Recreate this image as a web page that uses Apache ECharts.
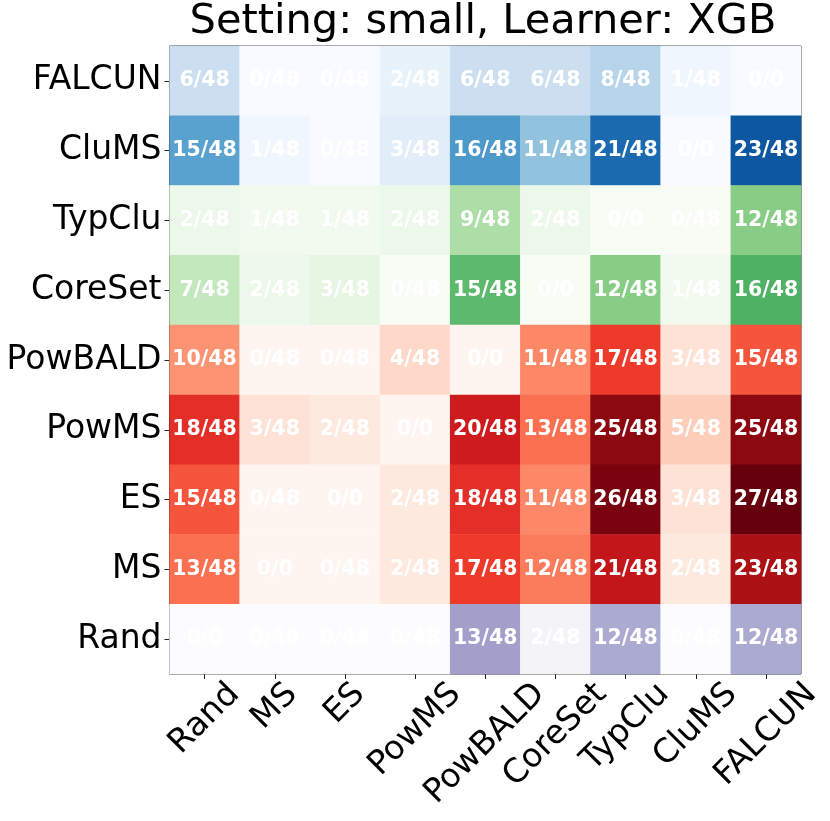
<!DOCTYPE html>
<html>
<head>
<meta charset="utf-8">
<script src="https://cdn.jsdelivr.net/npm/echarts@6/dist/echarts.min.js"></script>
<style>
  html, body { margin: 0; padding: 0; background: #fff; }
  #main { width: 830px; height: 821px; }
</style>
</head>
<body>
<div id="main"></div>
<script>
// columns (x) and rows (y, top to bottom)
const xNames = ['Rand', 'MS', 'ES', 'PowMS', 'PowBALD', 'CoreSet', 'TypClu', 'CluMS', 'FALCUN'];
const yNames = ['FALCUN', 'CluMS', 'TypClu', 'CoreSet', 'PowBALD', 'PowMS', 'ES', 'MS', 'Rand'];

// wins per row (numerator of the cell text)
const wins = [
    [6, 0, 0, 2, 6, 6, 8, 1, 0],
    [15, 1, 0, 3, 16, 11, 21, 0, 23],
    [2, 1, 1, 2, 9, 2, 0, 0, 12],
    [7, 2, 3, 0, 15, 0, 12, 1, 16],
    [10, 0, 0, 4, 0, 11, 17, 3, 15],
    [18, 3, 2, 0, 20, 13, 25, 5, 25],
    [15, 0, 0, 2, 18, 11, 26, 3, 27],
    [13, 0, 0, 2, 17, 12, 21, 2, 23],
    [0, 0, 0, 0, 13, 2, 12, 0, 12]
];

// number of comparisons per cell (denominator)
const totals = [
    [48, 48, 48, 48, 48, 48, 48, 48, 0],
    [48, 48, 48, 48, 48, 48, 48, 0, 48],
    [48, 48, 48, 48, 48, 48, 0, 48, 48],
    [48, 48, 48, 48, 48, 0, 48, 48, 48],
    [48, 48, 48, 48, 0, 48, 48, 48, 48],
    [48, 48, 48, 0, 48, 48, 48, 48, 48],
    [48, 48, 0, 48, 48, 48, 48, 48, 48],
    [48, 0, 48, 48, 48, 48, 48, 48, 48],
    [0, 48, 48, 48, 48, 48, 48, 48, 48]
];

const rowCmap = ['Blues', 'Blues', 'Greens', 'Greens', 'Reds', 'Reds', 'Reds', 'Reds', 'Purples'];
const colorMax = 27;

const cmaps = {
    Blues: ['#f7fbff', '#deebf7', '#c6dbef', '#9ecae1', '#6baed6', '#4292c6', '#2171b5', '#08519c', '#08306b'],
    Greens: ['#f7fcf5', '#e5f5e0', '#c7e9c0', '#a1d99b', '#74c476', '#41ab5d', '#238b45', '#006d2c', '#00441b'],
    Reds: ['#fff5f0', '#fee0d2', '#fcbba1', '#fc9272', '#fb6a4a', '#ef3b2c', '#cb181d', '#a50f15', '#67000d'],
    Purples: ['#fcfbfd', '#efedf5', '#dadaeb', '#bcbddc', '#9e9ac8', '#807dba', '#6a51a3', '#54278f', '#3f007d']
};

const FONT = 'DejaVu Sans';
const tickFont = 33;
const titleText = 'Setting: small, Learner: XGB';
const titleFont = 41.5;

window.addEventListener('load', () => {
    var chart = echarts.init(document.getElementById('main'));

    // one series per colormap
    var names = [];
    rowCmap.forEach((c) => { if (names.indexOf(c) < 0) names.push(c); });

    var series = names.map((c) => {
        var data = [];
        yNames.forEach((r, yi) => {
            if (rowCmap[yi] !== c) return;
            xNames.forEach((x, xi) => {
                data.push([xi, yi, wins[yi][xi], totals[yi][xi]]);
            });
        });
        return {
            type: 'heatmap',
            name: c,
            data: data,
            label: {
                show: true,
                color: '#fff',
                fontFamily: FONT,
                fontWeight: 'bold',
                fontSize: 20.5,
                formatter: (p) => p.value[2] + '/' + p.value[3]
            },
            emphasis: { disabled: true },
            itemStyle: { borderWidth: 0 }
        };
    });

    var visualMaps = names.map((c, i) => ({
        show: false,
        type: 'continuous',
        seriesIndex: i,
        dimension: 2,
        min: 0,
        max: colorMax,
        inRange: { color: cmaps[c] }
    }));

    // matplotlib centres the rotated label box under the tick; shift each label by its width
    var ctx = document.createElement('canvas').getContext('2d');
    ctx.font = tickFont + 'px "' + FONT + '"';
    var rich = {};
    xNames.forEach((n, i) => {
        var w = ctx.measureText(n).width;
        rich['l' + i] = {
            fontSize: tickFont,
            fontFamily: FONT,
            color: '#000',
            padding: [w / 2, w / 2, 0, 0]
        };
    });

    // title centred over the plot area, not the page
    ctx.font = titleFont + 'px "' + FONT + '"';
    var titleW = ctx.measureText(titleText).width;

    option = {
        backgroundColor: '#fff',
        animation: false,
        title: {
            text: titleText,
            left: 483 - titleW / 2,
            top: 1,
            padding: 0,
            textStyle: {
                fontFamily: FONT,
                fontWeight: 'normal',
                fontSize: titleFont,
                color: '#000'
            }
        },
        grid: {
            left: 169.5,
            right: 29,
            top: 46,
            bottom: 147,
            show: true,
            borderColor: '#222',
            borderWidth: 1,
            backgroundColor: 'transparent'
        },
        xAxis: {
            type: 'category',
            data: xNames,
            axisLine: { show: false },
            axisTick: { show: true, alignWithLabel: true, length: 5, lineStyle: { color: '#222' } },
            splitArea: { show: false },
            axisLabel: {
                rotate: 45,
                align: 'center',
                verticalAlign: 'middle',
                margin: 15,
                interval: 0,
                fontFamily: FONT,
                fontSize: tickFont,
                color: '#000',
                formatter: (v, i) => '{l' + i + '|' + v + '}',
                rich: rich
            }
        },
        yAxis: {
            type: 'category',
            data: yNames,
            inverse: true,
            axisLine: { show: false },
            axisTick: { show: true, alignWithLabel: true, length: 5, lineStyle: { color: '#222' } },
            splitArea: { show: false },
            axisLabel: {
                margin: 8,
                interval: 0,
                fontFamily: FONT,
                fontSize: tickFont,
                color: '#000'
            }
        },
        visualMap: visualMaps,
        series: series
    };

    chart.setOption(option);
});
</script>
</body>
</html>
